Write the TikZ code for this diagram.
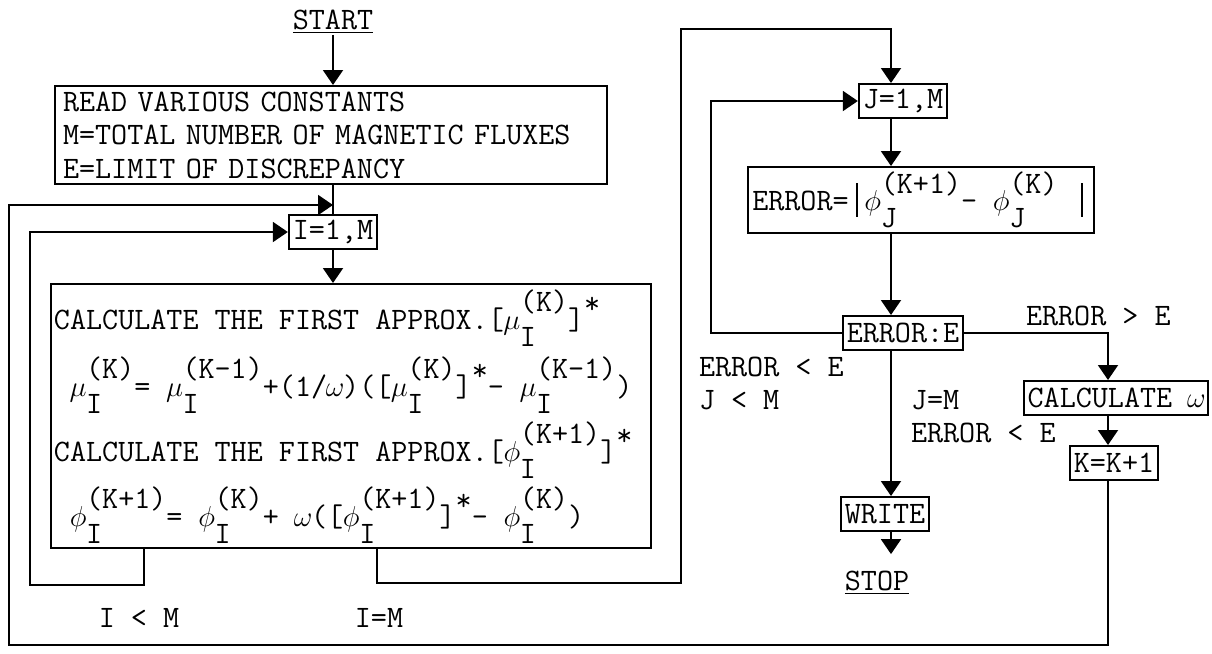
\documentclass[tikz,border=0pt]{standalone}
\usetikzlibrary{arrows.meta}

\newcommand\twf{\fontsize{15.6}{16.75}\selectfont\ttfamily}
\newcommand\gk[1]{\makebox[\fontcharwd\font`M]{$#1$}}
\newcommand\lowup[2]{\makebox[0pt][l]{\raisebox{-0.55em}{#1}}\raisebox{0.55em}{#2}}
\newcommand\hi[1]{\raisebox{0.5em}{#1}}
\newcommand\absbar{\makebox[\fontcharwd\font`M]{\rule[-3pt]{1.1pt}{17pt}}}

\begin{document}
\begin{tikzpicture}[
  x=0.5pt, y=-0.5pt, line width=1pt,
  arr/.style={-{Triangle[length=7.5pt,width=10pt]}},
  box/.style={draw, font=\twf, inner sep=0pt},
  tag/.style={draw, font=\twf, inner xsep=2pt, inner ysep=0pt, minimum height=17pt},
  txt/.style={font=\twf, inner sep=0pt}
]
  \useasboundingbox (0,0) rectangle (1212,654);

  \node[txt] (start) at (333,22) {\underline{START}};
  \node[box, anchor=north west, minimum width=276pt, minimum height=49pt,
        text width=268pt, inner xsep=4pt, align=left] (read) at (54,85)
    {READ VARIOUS CONSTANTS\\M=TOTAL NUMBER OF MAGNETIC FLUXES\\E=LIMIT OF DISCREPANCY};
  \node[tag] (iloop) at (333,232) {I=1,M};

  \node[box, anchor=north west, minimum width=300pt, minimum height=132pt] (calc) at (50,283) {};
  \node[txt, anchor=base west] (line1) at (53,329)
    {CALCULATE THE FIRST APPROX.[\gk\mu\lowup{I}{(K)}]\hi{*}};
  \node[txt, anchor=base west] (line2) at (53,396)
    {\ \gk\mu\lowup{I}{(K)}=\ \gk\mu\lowup{I}{(K-1)}+(1/\gk\omega)([\gk\mu\lowup{I}{(K)}]\hi{*}-\ \gk\mu\lowup{I}{(K-1)})};
  \node[txt, anchor=base west] (line3) at (53,461)
    {CALCULATE THE FIRST APPROX.[\gk\phi\lowup{I}{(K+1)}]\hi{*}};
  \node[txt, anchor=base west] (line4) at (53,526)
    {\ \gk\phi\lowup{I}{(K+1)}=\ \gk\phi\lowup{I}{(K)}+\ \gk\omega([\gk\phi\lowup{I}{(K+1)}]\hi{*}-\ \gk\phi\lowup{I}{(K)})};

  \node[tag] (jloop) at (903,101) {J=1,M};
  \node[box, minimum width=173pt, minimum height=33pt] (err) at (921,200)
    {ERROR=\absbar\gk\phi\lowup{J}{(K+1)}-\ \gk\phi\lowup{J}{(K)}\ \absbar};
  \node[tag] (test) at (903,333) {ERROR:E};
  \node[tag] (omega) at (1116,398) {CALCULATE \gk\omega};
  \node[tag] (kinc) at (1114,463) {K=K+1};
  \node[tag] (write) at (885,514) {WRITE};
  \node[txt, inner ysep=8pt] (stop) at (877,583) {\underline{STOP}};

  \node[txt, anchor=west] (gtlabel) at (1025,316) {ERROR > E};
  \node[txt, anchor=west] (ltlabel) at (698,367) {ERROR < E};
  \node[txt, anchor=west] (jltlabel) at (698,400) {J < M};
  \node[txt, anchor=west] (jeqlabel) at (910,400) {J=M};
  \node[txt, anchor=west] (donelabel) at (910,433) {ERROR < E};
  \node[txt] (iltlabel) at (139,618) {I < M};
  \node[txt] (ieqlabel) at (379,618) {I=M};

  \coordinate (ileft) at (144,0);
  \coordinate (icorner) at (30,585);
  \coordinate (iright) at (377,0);
  \coordinate (mlow) at (681,583);
  \coordinate (mtop) at (681,29);
  \coordinate (trunk) at (891,0);
  \coordinate (jleft) at (711,0);
  \coordinate (kx) at (1108,0);
  \coordinate (ocorner) at (9,645);
  \coordinate (ojoin) at (333,205);

  \draw[arr] (start.south) -- (start.south |- read.north);
  \draw (iloop.north |- read.south) -- (iloop.north);
  \draw[arr] (iloop.south) -- (iloop.south |- calc.north);
  \draw[arr] (ileft |- calc.south) |- (icorner) |- (iloop.west);
  \draw[arr] (iright |- calc.south) |- (mlow) |- (trunk |- mtop) -- (trunk |- jloop.north);
  \draw[arr] (trunk |- jloop.south) -- (trunk |- err.north);
  \draw[arr] (trunk |- err.south) -- (trunk |- test.north);
  \draw[arr] (test.west) -| (jleft |- jloop.west) -- (jloop.west);
  \draw[arr] (test.east) -| (kx |- omega.north);
  \draw[arr] (kx |- omega.south) -- (kx |- kinc.north);
  \draw[arr] (kx |- kinc.south) |- (ocorner) |- (ojoin);
  \draw[arr] (trunk |- test.south) -- (trunk |- write.north);
  \draw[arr] (trunk |- write.south) -- (trunk |- stop.north);
\end{tikzpicture}
\end{document}
